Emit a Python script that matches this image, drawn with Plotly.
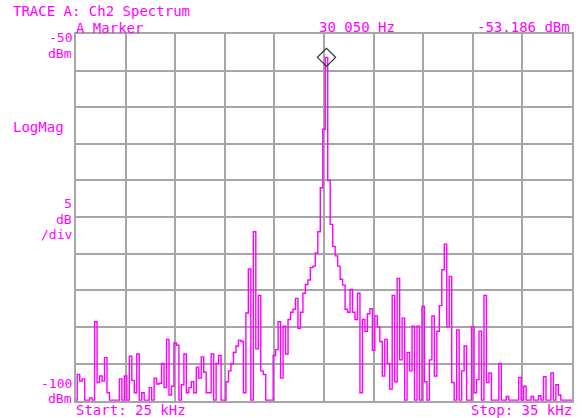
import numpy as np
import plotly.graph_objects as go

# Sweep: 25 kHz to 35 kHz, 201 bins (50 Hz spacing)
start_khz = 25.0
stop_khz = 35.0
step_khz = 0.05

# Trace A magnitude, dBm per bin
level_dbm = [
    # 25.00 - 27.45 kHz
    -100, -96.5, -97.4, -97.1, -100, -100, -99.7, -100, -89.3, -97.6,
    -96.7, -97.4, -94.2, -99.0, -100, -100, -100, -100, -97.1, -100,
    -96.7, -100, -94.0, -97.3, -99.0, -93.7, -100, -99.0, -100, -100,
    -98.3, -100, -97.0, -97.8, -97.7, -95.0, -98.3, -91.7, -99.3, -98.1,
    -92.2, -92.5, -100, -97.9, -93.7, -99.0, -98.3, -97.5, -99.0, -95.5,
    # 27.50 - 29.95 kHz
    -97.0, -94.1, -96.2, -99.0, -99.0, -93.7, -100, -95.0, -93.9, -100,
    -100, -97.5, -96.0, -95.0, -93.5, -92.6, -91.8, -92.0, -99.0, -88.1,
    -82.1, -100, -77.0, -93.0, -85.7, -96.0, -96.5, -100, -100, -100,
    -93.9, -93.1, -89.3, -97.0, -89.9, -93.7, -89.0, -88.0, -87.6, -86.1,
    -90.2, -88.0, -85.4, -84.2, -83.6, -81.9, -81.7, -79.9, -77.0, -71.0,
    # 30.00 - 32.45 kHz
    -63.0, -53.186, -70.0, -76.0, -79.0, -80.3, -81.7, -83.5, -84.3, -87.6,
    -88.0, -84.9, -88.0, -89.0, -85.4, -99.0, -89.0, -90.6, -88.2, -87.5,
    -93.2, -88.5, -90.0, -92.0, -96.7, -91.7, -95.0, -98.5, -85.7, -97.5,
    -83.4, -94.5, -88.8, -100, -93.5, -96.0, -89.9, -100, -89.9, -100,
    -87.2, -97.5, -100, -94.5, -88.5, -96.7, -90.6, -87.1, -82.2, -78.7,
    # 32.50 - 35.00 kHz
    -90.0, -83.1, -97.6, -100, -90.4, -100, -96.0, -92.6, -100, -100,
    -90.0, -99.0, -97.2, -90.6, -100, -85.7, -97.6, -96.3, -100, -100,
    -100, -95.0, -100, -100, -99.5, -100, -100, -100, -100, -96.9,
    -100, -98.1, -100, -100, -99.5, -100, -100, -99.4, -100, -96.8,
    -100, -100, -96.3, -100, -97.9, -99.3, -100, -100, -100, -100,
    -100,
]
freq_khz = start_khz + step_khz * np.arange(len(level_dbm))

# Marker readout
marker_khz = 30.05
marker_dbm = -53.186

# Display scale
top_dbm = -50
bottom_dbm = -100
db_per_div = 5

MAGENTA = "#ff00ff"
GRID = "#a6a6a6"
FONT = "DejaVu Sans Mono"

W, H = 584, 418
L, R, T, B = 76, 10, 34, 17
PW, PH = W - L - R, H - T - B


def px(x, y):
    """Pixel position on the page -> paper coordinates."""
    return (x - L) / PW, (H - B - y) / PH


fig = go.Figure()
fig.add_trace(go.Scatter(
    x=freq_khz, y=level_dbm, mode="lines",
    line=dict(color=MAGENTA, width=1.4, shape="hvh"),
    hoverinfo="skip",
))
fig.add_trace(go.Scatter(
    x=[marker_khz], y=[marker_dbm], mode="markers",
    marker=dict(symbol="diamond-open", size=14, color="#333333",
                line=dict(width=1.2, color="#333333")),
    cliponaxis=False, hoverinfo="skip",
))

# (text, x px, y px, anchor, size)
labels = [
    ("TRACE A: Ch2 Spectrum", 12, 11.5, "left", 14),
    ("A Marker", 75, 28, "left", 14),
    ("30 050 Hz", 319, 27, "left", 14),
    ("-53.186 dBm", 573, 27, "right", 14),
    ("-50", 73, 37.5, "right", 13),
    ("dBm", 73, 53, "right", 13),
    ("LogMag", 12, 127, "left", 14),
    ("5", 73, 203.5, "right", 13),
    ("dB", 73, 219, "right", 13),
    ("/div", 73, 234.5, "right", 13),
    ("-100", 73, 383, "right", 13),
    ("dBm", 73, 398.5, "right", 13),
    ("Start: 25 kHz", 75, 410, "left", 14),
    ("Stop: 35 kHz", 575, 410, "right", 14),
]
annotations = []
for text, x, y, anchor, size in labels:
    ax, ay = px(x, y)
    annotations.append(dict(
        text=text, x=ax, y=ay, xref="paper", yref="paper",
        xanchor=anchor, yanchor="middle", showarrow=False,
        font=dict(family=FONT, size=size, color=MAGENTA),
        borderpad=0,
    ))

fig.update_layout(
    width=W, height=H,
    margin=dict(l=L, r=R, t=T, b=B, pad=0),
    paper_bgcolor="white", plot_bgcolor="white",
    showlegend=False,
    annotations=annotations,
)
fig.update_xaxes(
    range=[start_khz, stop_khz], dtick=1, tick0=start_khz,
    showgrid=True, gridcolor=GRID, gridwidth=1.5,
    showline=True, linecolor=GRID, linewidth=1.5, mirror=True,
    showticklabels=False, ticks="", zeroline=False,
)
fig.update_yaxes(
    range=[bottom_dbm - 0.12, top_dbm], dtick=db_per_div, tick0=bottom_dbm,
    showgrid=True, gridcolor=GRID, gridwidth=1.5,
    showline=True, linecolor=GRID, linewidth=1.5, mirror=True,
    showticklabels=False, ticks="", zeroline=False,
)

fig.write_html("out.html")
